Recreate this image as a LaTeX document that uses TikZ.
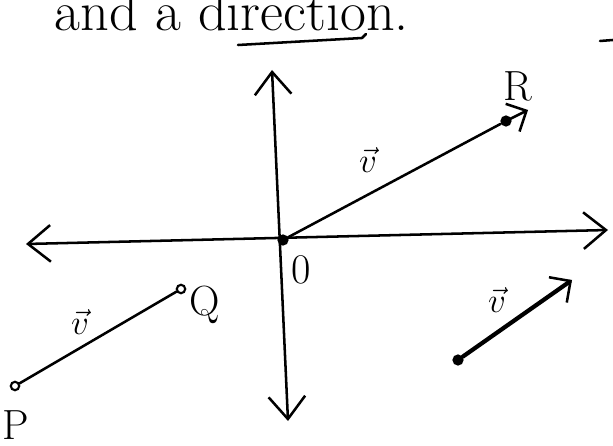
\documentclass[tikz,border=0pt]{standalone}
\usepackage{amsmath}
\usetikzlibrary{arrows.meta}

\begin{document}
\begin{tikzpicture}[
  x=0.025cm, y=-0.025cm,
  ink/.style={line width=1.8pt, line cap=round, line join=round},
  axis/.style={ink, {Straight Barb[length=16pt, width=26pt, line width=1.8pt]}-{Straight Barb[length=16pt, width=26pt, line width=1.8pt]}},
  vec/.style={ink, -{Straight Barb[length=11pt, width=22pt, line width=1.8pt]}},
  dot/.style={circle, fill=black, inner sep=0pt, minimum size=8pt},
  ring/.style={circle, draw, line width=1.5pt, inner sep=0pt, minimum size=6pt},
  lbl/.style={font=\fontsize{30}{32}\selectfont}
]
\clip (0,0) rectangle (613,446);

% heading cut off at the top
\node[anchor=base west, font=\fontsize{40}{42}\selectfont] (title) at (50,31) {and a direction.};
\coordinate (ul1) at (238,45);
\coordinate (ul2) at (362,38);
\draw[ink] (ul1) -- (ul2) -- ++(4,-4);
\draw[ink] (600,41) -- (613,40);

% axes
\coordinate (O) at (283,240);
\coordinate (xl) at (26,244);
\coordinate (xr) at (608,230);
\coordinate (yt) at (272,70);
\coordinate (yb) at (288,421);
\draw[axis] (xl) -- (xr);
\draw[axis] (yb) -- (yt);
\node[dot] (origin) at (O) {};
\node[lbl] (zero) at (301,270) {0};

% position vector
\node[dot] (R) at (506,121) {};
\coordinate (Rtip) at (528,110);
\draw[ink] (origin) -- (R);
\draw[vec] (R.center) -- (Rtip);
\node[lbl] (Rlab) at (518,86) {R};
\node[lbl] (v1) at (368,160) {$\vec{v}$};

% vector from P to Q
\node[ring] (P) at (15,386) {};
\node[ring] (Q) at (181,289) {};
\draw[ink] (P) -- (Q);
\node[lbl] (Plab) at (16,425) {P};
\node[lbl] (Qlab) at (205,305) {Q};
\node[lbl] (v2) at (80,322) {$\vec{v}$};

% free vector
\node[dot] (S) at (458,360) {};
\coordinate (T) at (572,280);
\draw[vec, line width=3pt] (S) -- (T);
\node[lbl] (v3) at (497,300) {$\vec{v}$};
\end{tikzpicture}
\end{document}
